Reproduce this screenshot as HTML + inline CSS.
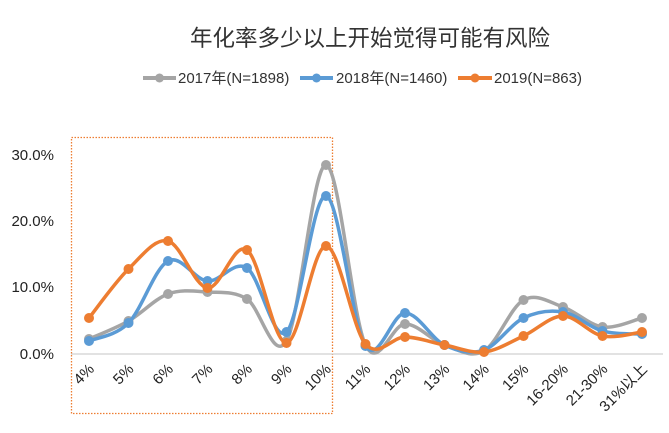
<!DOCTYPE html>
<html><head><meta charset="utf-8">
<style>
html,body{margin:0;padding:0;background:#fff;}
svg{display:block;font-family:"Liberation Sans","Noto Sans CJK SC",sans-serif;}
</style></head>
<body>
<svg id="c" width="669" height="433" viewBox="0 0 669 433" xmlns="http://www.w3.org/2000/svg">
<rect width="669" height="433" fill="#fff"/>
<text x="370" y="46" font-size="22.5" text-anchor="middle" fill="#333" font-family="'Noto Sans CJK SC',sans-serif">年化率多少以上开始觉得可能有风险</text>
<g font-size="15" fill="#333">
<line x1="143" y1="78" x2="176" y2="78" stroke="#a5a5a5" stroke-width="4"/><circle cx="159.5" cy="78" r="4.5" fill="#a5a5a5"/>
<text x="178" y="83">2017年(N=1898)</text>
<line x1="300" y1="78" x2="333" y2="78" stroke="#5b9bd5" stroke-width="4"/><circle cx="316.5" cy="78" r="4.5" fill="#5b9bd5"/>
<text x="336" y="83">2018年(N=1460)</text>
<line x1="458" y1="78" x2="492" y2="78" stroke="#ed7d31" stroke-width="4"/><circle cx="475" cy="78" r="4.5" fill="#ed7d31"/>
<text x="494" y="83">2019(N=863)</text>
</g>
<rect x="71.5" y="137.5" width="261" height="276" fill="none" stroke="#ed7d31" stroke-width="1.3" stroke-dasharray="1.5,1.5"/>
<line x1="71" y1="354" x2="663" y2="354" stroke="#d0d0d0" stroke-width="1.3"/>
<g font-size="15" fill="#222" text-anchor="end">
<text x="54" y="160">30.0%</text>
<text x="54" y="226">20.0%</text>
<text x="54" y="292">10.0%</text>
<text x="54" y="359">0.0%</text>
</g>
<g id="series"></g>
<g id="xl" font-size="15" fill="#222" text-anchor="end"></g>
</svg>
<script>
var xs=[],labels=["4%","5%","6%","7%","8%","9%","10%","11%","12%","13%","14%","15%","16-20%","21-30%","31%以上"];
for(var i=0;i<15;i++)xs.push(89+i*39.5);
var data=[
["#a5a5a5",[339,321,294,292,299,341,165,345,324,345,351,300,307,327,318]],
["#5b9bd5",[341,323,261,281,268,332,196,346,313,345,350,318,312,331,334]],
["#ed7d31",[318,269,241,288,250,343,246,344,337,345,352,336,316,336,332]]];
var ns="http://www.w3.org/2000/svg",g=document.getElementById("series");
data.forEach(function(s){
  var y=s[1],d="M"+xs[0]+","+y[0];
  for(var i=0;i<14;i++){
    var p0=i?i-1:0,p3=i<13?i+2:14;
    var c1x=xs[i]+(xs[i+1]-xs[p0])/6,c1y=y[i]+(y[i+1]-y[p0])/6;
    var c2x=xs[i+1]-(xs[p3]-xs[i])/6,c2y=y[i+1]-(y[p3]-y[i])/6;
    d+=" C"+c1x+","+c1y+" "+c2x+","+c2y+" "+xs[i+1]+","+y[i+1];
  }
  var p=document.createElementNS(ns,"path");
  p.setAttribute("d",d);p.setAttribute("fill","none");p.setAttribute("stroke",s[0]);
  p.setAttribute("stroke-width","3.5");p.setAttribute("stroke-linejoin","round");
  g.appendChild(p);
  for(var i=0;i<15;i++){var c=document.createElementNS(ns,"circle");
    c.setAttribute("cx",xs[i]);c.setAttribute("cy",y[i]);c.setAttribute("r","5");c.setAttribute("fill",s[0]);g.appendChild(c);}
});
var xl=document.getElementById("xl");
labels.forEach(function(l,i){
  var t=document.createElementNS(ns,"text");
  var x=xs[i]+6,yy=370;
  t.setAttribute("x",x);t.setAttribute("y",yy);
  t.setAttribute("transform","rotate(-45 "+x+" "+yy+")");
  t.textContent=l;xl.appendChild(t);
});
</script>
</body></html>
